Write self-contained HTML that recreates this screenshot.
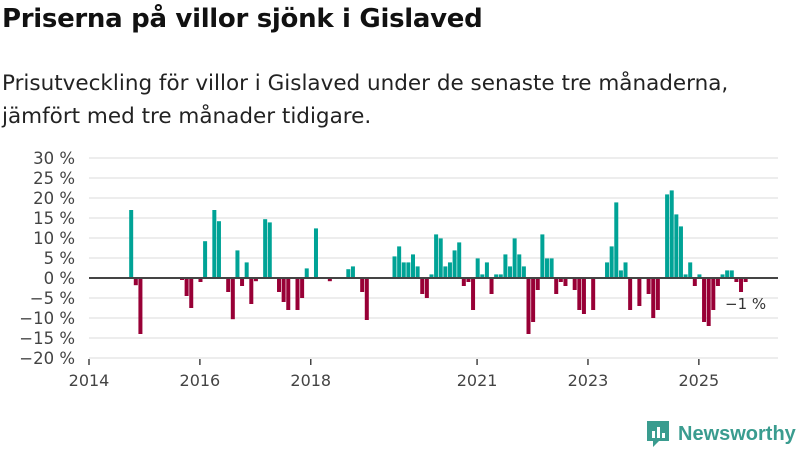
<!DOCTYPE html>
<html><head><meta charset="utf-8">
<style>
body{margin:0;width:800px;height:450px;background:#fff;font-family:"Liberation Sans","DejaVu Sans",sans-serif;overflow:hidden;position:relative}
h1{position:absolute;left:2px;top:4px;margin:0;font-size:26px;font-weight:bold;color:#111;font-family:"DejaVu Sans","Liberation Sans",sans-serif;letter-spacing:-0.3px}
.sub{position:absolute;left:2px;top:67px;margin:0;font-size:21.5px;line-height:33px;color:#222;font-family:"DejaVu Sans","Liberation Sans",sans-serif;letter-spacing:0px;white-space:nowrap}
svg{position:absolute;left:0;top:0}
.logo{position:absolute;left:645px;top:419px;display:flex;align-items:center}
.logo span{font-size:20px;font-weight:bold;color:#3a9c8f;margin-left:7px;font-family:"Liberation Sans","DejaVu Sans",sans-serif}
</style></head><body>
<h1>Priserna på villor sjönk i Gislaved</h1>
<p class="sub">Prisutveckling för villor i Gislaved under de senaste tre månaderna,<br>jämfört med tre månader tidigare.</p>
<svg id="chart" width="800" height="450"></svg>
<div class="logo">
<svg width="26" height="30" style="position:static"><path d="M2 2h22v20h-10l-6 6v-6h-6z" fill="#3a9c8f"/><rect x="7" y="12" width="3" height="7" fill="#fff"/><rect x="12" y="8" width="3" height="11" fill="#fff"/><rect x="17" y="14" width="3" height="5" fill="#fff"/></svg>
<span>Newsworthy</span></div>
<script>
const months = ["2014-10","2014-11","2014-12","2015-09","2015-10","2015-11","2016-01","2016-02","2016-04","2016-05","2016-07","2016-08","2016-09","2016-10","2016-11","2016-12","2017-01","2017-03","2017-04","2017-06","2017-07","2017-08","2017-10","2017-11","2017-12","2018-02","2018-05","2018-09","2018-10","2018-12","2019-01","2019-07","2019-08","2019-09","2019-10","2019-11","2019-12","2020-01","2020-02","2020-03","2020-04","2020-05","2020-06","2020-07","2020-08","2020-09","2020-10","2020-11","2020-12","2021-01","2021-02","2021-03","2021-04","2021-05","2021-06","2021-07","2021-08","2021-09","2021-10","2021-11","2021-12","2022-01","2022-02","2022-03","2022-04","2022-05","2022-06","2022-07","2022-08","2022-10","2022-11","2022-12","2023-02","2023-05","2023-06","2023-07","2023-08","2023-09","2023-10","2023-12","2024-02","2024-03","2024-04","2024-06","2024-07","2024-08","2024-09","2024-10","2024-11","2024-12","2025-01","2025-02","2025-03","2025-04","2025-05","2025-06","2025-07","2025-08","2025-09","2025-10","2025-11"];
const values = [17,-1.8,-14,-0.5,-4.5,-7.5,-1,9.2,17,14.2,-3.5,-10.3,6.9,-2,3.9,-6.5,-0.8,14.7,13.9,-3.5,-6,-8,-8,-5,2.4,12.4,-0.8,2.2,2.9,-3.5,-10.5,5.4,7.9,3.9,3.9,5.9,2.9,-4,-5,0.9,10.9,9.9,2.9,3.9,6.9,8.9,-2,-1,-8,4.9,0.9,3.9,-4,0.9,0.9,5.9,2.9,9.9,5.9,2.9,-14,-11,-3,10.9,4.9,4.9,-4,-1,-2,-3,-8,-9,-8,3.9,7.9,18.9,1.9,3.9,-8,-7,-4,-10,-8,20.9,21.9,15.9,12.9,0.9,3.9,-2,0.9,-11,-12,-8,-2,0.9,1.9,1.9,-1,-3.5,-1];
const yTicks = [30,25,20,15,10,5,0,-5,-10,-15,-20];
const xTickYears = [2014,2016,2018,2021,2023,2025];
const lastLabel = "−1 %";
const svg = document.getElementById('chart');
const NS = 'http://www.w3.org/2000/svg';
const x0 = 89, pxPerMonth = 4.62, plotRight = 778;
function xScale(m){const [y,mo]=m.split('-').map(Number);return x0+((y-2014)*12+(mo-1))*pxPerMonth;}
function yScale(v){return 278 - v*4;}
function mk(tag,attrs){const e=document.createElementNS(NS,tag);for(const k in attrs)e.setAttribute(k,attrs[k]);svg.appendChild(e);return e;}
yTicks.forEach(t=>{
  if(t!==0){const g=mk('line',{x1:x0,x2:plotRight,y1:yScale(t),y2:yScale(t),stroke:'#e2e2e2','stroke-width':1.3});
  
  }
  const tx=mk('text',{x:75,y:yScale(t)+6,'text-anchor':'end','font-size':16.5,fill:'#444','font-family':'DejaVu Sans, Liberation Sans, sans-serif'});
  tx.textContent=(t<0?'−'+(-t):t)+' %';
  
  
});
values.forEach((v,i)=>{
  const cx=xScale(months[i])+0.6;
  const y=Math.min(yScale(v),yScale(0)), h=Math.abs(yScale(v)-yScale(0));
  const r=mk('rect',{x:cx-2,y:y,width:4,height:h,fill:v>=0?'#00a396':'#980036'});
  
  
});
const zl=mk('line',{x1:x0,x2:plotRight,y1:yScale(0),y2:yScale(0),stroke:'#444','stroke-width':2});


xTickYears.forEach(yr=>{
  const x=xScale(yr+'-01');
  const l=mk('line',{x1:x,x2:x,y1:359,y2:365,stroke:'#444','stroke-width':1.5});
  
  
  const t=mk('text',{x:x,y:386,'text-anchor':'middle','font-size':16,fill:'#444','font-family':'DejaVu Sans, Liberation Sans, sans-serif'});
  t.textContent=yr;
  
  
});
const lastM=months[months.length-1];
const ll=mk('text',{x:xScale(lastM)-20,y:yScale(values[values.length-1])+27,'text-anchor':'start','font-size':15,fill:'#333','font-family':'DejaVu Sans, Liberation Sans, sans-serif'});
ll.textContent=lastLabel;


</script>
</body></html>
